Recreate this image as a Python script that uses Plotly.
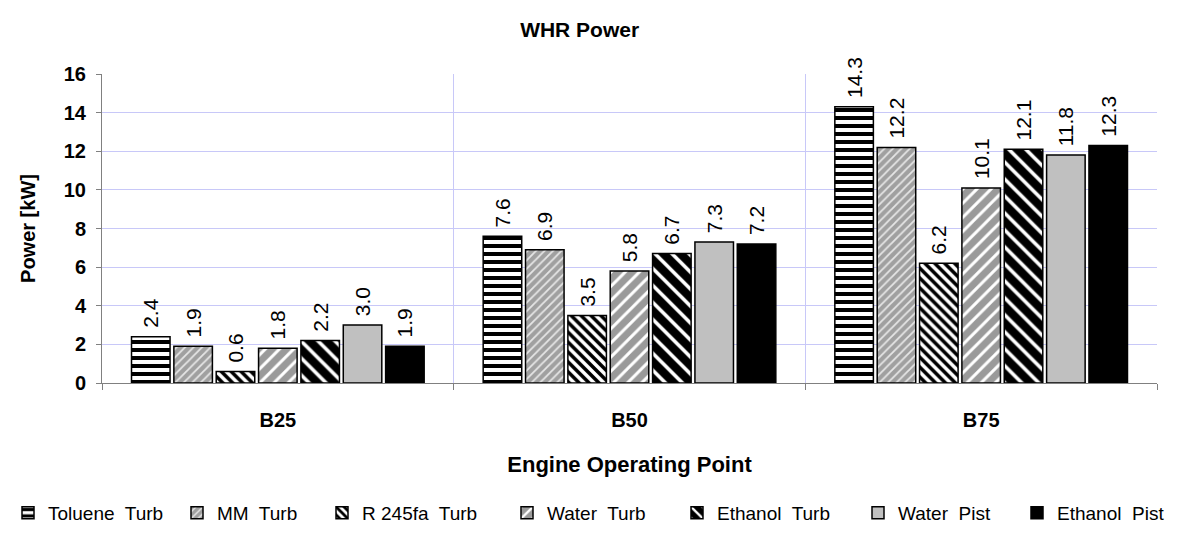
import plotly.graph_objects as go

categories = ["B25", "B50", "B75"]
series_names = ["Toluene  Turb", "MM  Turb", "R 245fa  Turb", "Water  Turb",
                "Ethanol  Turb", "Water  Pist", "Ethanol  Pist"]
toluene_turb = [2.4, 7.6, 14.3]
mm_turb = [1.9, 6.9, 12.2]
r245fa_turb = [0.6, 3.5, 6.2]
water_turb = [1.8, 5.8, 10.1]
ethanol_turb = [2.2, 6.7, 12.1]
water_pist = [3.0, 7.3, 11.8]
ethanol_pist = [1.9, 7.2, 12.3]
y_ticks = [0, 2, 4, 6, 8, 10, 12, 14, 16]

series_values = [toluene_turb, mm_turb, r245fa_turb, water_turb,
                 ethanol_turb, water_pist, ethanol_pist]

styles = [
    dict(color="white", pattern=dict(shape="-", fgcolor="black", bgcolor="white", size=8, solidity=0.5)),
    dict(color="#a0a0a0", pattern=dict(shape="/", fgcolor="#e6e6e6", bgcolor="#a0a0a0", size=6, solidity=0.3)),
    dict(color="white", pattern=dict(shape="\\", fgcolor="black", bgcolor="white", size=7, solidity=0.5)),
    dict(color="#9a9a9a", pattern=dict(shape="/", fgcolor="white", bgcolor="#9a9a9a", size=10, solidity=0.3)),
    dict(color="black", pattern=dict(shape="\\", fgcolor="white", bgcolor="black", size=12, solidity=0.3)),
    dict(color="#c0c0c0", pattern=None),
    dict(color="black", pattern=None),
]

# page x (px) of each legend entry's symbol, as laid out in the reference
legend_px = [1, 191, 336, 521, 691, 872, 1031]
FIG_W, FIG_H = 1169, 532

fig = go.Figure()
legend_layouts = {}
for i, (name, vals, st) in enumerate(zip(series_names, series_values, styles)):
    lname = "legend" if i == 0 else f"legend{i + 1}"
    marker = dict(color=st["color"], line=dict(color="black", width=1.5))
    if st["pattern"] is not None:
        p = st["pattern"]
        marker["pattern"] = dict(shape=p["shape"], fgcolor=p["fgcolor"], bgcolor=p["bgcolor"],
                                 size=p["size"], solidity=p["solidity"], fillmode="replace")
    fig.add_trace(go.Bar(
        x=categories, y=vals, name=name, marker=marker, legend=lname,
        text=[f" {v:.1f}" for v in vals], textposition="outside", textangle=-90,
        constraintext="none",
        textfont=dict(family="Arial", size=21, color="black"), cliponaxis=False,
    ))
    legend_layouts[lname] = dict(
        orientation="h", x=max(0.0, (legend_px[i] - 22) / FIG_W), xanchor="left",
        y=0.051, yanchor="middle", xref="container", yref="container",
        font=dict(size=19, family="Arial"), itemwidth=30, bgcolor="rgba(0,0,0,0)",
    )

fig.update_layout(
    width=FIG_W, height=FIG_H,
    paper_bgcolor="white", plot_bgcolor="white",
    font=dict(family="Arial", color="black"),
    margin=dict(l=94, r=20, t=66, b=157, autoexpand=False),
    barmode="group", bargap=0.157, bargroupgap=0.09,
    title=dict(text="WHR Power", x=0.489, xanchor="center", y=0.959, yanchor="middle",
               xref="container", yref="container",
               font=dict(size=21, family="Arial", weight="bold")),
    showlegend=True,
    **legend_layouts,
)
fig.update_xaxes(
    type="category", tickson="boundaries", showgrid=True, gridcolor="#c8c8f8", gridwidth=1,
    showline=True, linecolor="#808080", linewidth=1, ticks="outside", ticklen=6, tickcolor="#808080",
    tickfont=dict(size=20, family="Arial", weight="bold"), ticklabelstandoff=19,
    title=dict(text="Engine Operating Point", font=dict(size=22, family="Arial", weight="bold"),
               standoff=26),
)
fig.update_yaxes(
    range=[0, 16], tickvals=y_ticks, showgrid=True, gridcolor="#c8c8f8", gridwidth=1,
    showline=True, linecolor="#808080", linewidth=1, ticks="outside", ticklen=5, tickcolor="#808080",
    tickfont=dict(size=20, family="Arial", weight="bold"), ticklabelstandoff=6, zeroline=False,
    title=dict(text="Power [kW]", font=dict(size=20, family="Arial", weight="bold"), standoff=22),
)

fig.write_html("out.html")
